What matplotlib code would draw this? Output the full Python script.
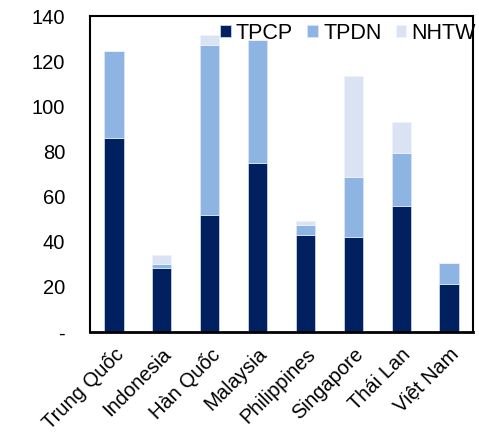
import matplotlib
matplotlib.use("Agg")
import matplotlib.pyplot as plt
import numpy as np

plt.rcParams['font.family'] = ['Liberation Sans', 'DejaVu Sans']

categories = ["Trung Quốc", "Indonesia", "Hàn Quốc", "Malaysia", "Philippines", "Singapore", "Thái Lan", "Việt Nam"]
tpcp = [86.1, 28.2, 51.9, 74.8, 42.9, 42.0, 56.0, 21.4]
tpdn = [38.3, 2.1, 75.3, 54.7, 4.7, 26.5, 23.5, 9.2]
nhtw = [0.0, 3.6, 4.3, 0.0, 1.5, 45.1, 13.7, 0.0]
yticks = [0, 20, 40, 60, 80, 100, 120, 140]
ytick_labels = ["-", "20", "40", "60", "80", "100", "120", "140"]

fig = plt.figure(figsize=(4.79, 4.34), dpi=100)
ax = fig.add_axes([90/479, 1-332/434, 383/479, 316/434])

x = np.arange(len(categories))
w = 0.4
c1, c2, c3 = "#002060", "#8EB4E3", "#DAE3F3"
ax.bar(x, tpcp, w, color=c1, edgecolor="#c8d4e8", linewidth=0.6, label="TPCP")
ax.bar(x, tpdn, w, bottom=tpcp, color=c2, edgecolor="#dbe6f5", linewidth=0.6, label="TPDN")
b2 = np.array(tpcp) + np.array(tpdn)
ax.bar(x, nhtw, w, bottom=b2, color=c3, edgecolor="#eef2fa", linewidth=0.6, label="NHTW")

ax.set_xlim(-0.5, 7.5)
ax.set_ylim(0, 140)
ax.set_yticks(yticks)
ax.set_yticklabels(ytick_labels, fontsize=14.5)
ax.set_xticks(x)
ax.set_xticklabels(categories, rotation=45, ha="right", rotation_mode="anchor", fontsize=14.5)
ax.tick_params(axis="both", length=0)
ax.tick_params(axis="y", pad=18)
ax.tick_params(axis="x", pad=9)
for s in ax.spines.values():
    s.set_linewidth(1.5)
    s.set_color("black")
ax.spines["bottom"].set_linewidth(2)

ax.legend(loc="center right", bbox_to_anchor=(1.008, 0.945), ncol=3, frameon=False, fontsize=15.5,
          handlelength=0.5, handleheight=0.5, handletextpad=0.25, columnspacing=0.65,
          borderaxespad=0, borderpad=0)

fig.savefig("out.png", dpi=100)
